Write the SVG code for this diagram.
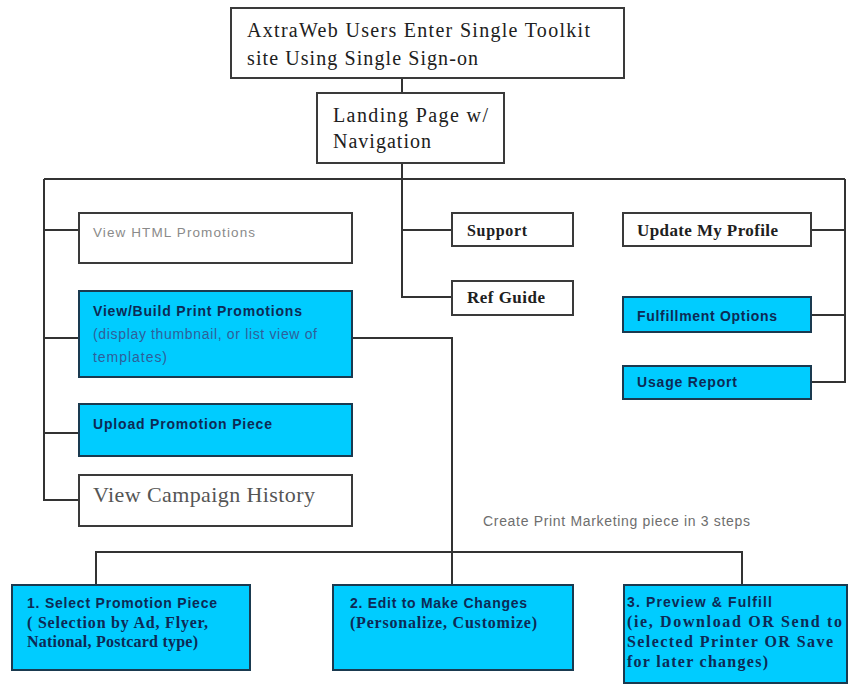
<svg xmlns="http://www.w3.org/2000/svg" width="849" height="685" viewBox="0 0 849 685">
<style>
.w{fill:#ffffff;stroke:#3a3a3a;stroke-width:2}
.c{fill:#00ccff;stroke:#1a3a50;stroke-width:2}
.ln{fill:none;stroke:#333333;stroke-width:2}
.serif{font-family:"Liberation Serif","Times New Roman",serif}
.sans{font-family:"Liberation Sans",Arial,sans-serif}
.dk{fill:#202020}
.nav{fill:#0d2a55}
.sub{fill:#2f5f9a}
.bs{font-family:"Liberation Sans",Arial,sans-serif;font-weight:bold;font-size:14px;fill:#0d2a55}
.bf{font-family:"Liberation Serif","Times New Roman",serif;font-weight:bold;font-size:16px;fill:#0d2a55}
</style>
<rect width="849" height="685" fill="#ffffff"/>
<g id="connectors">
<path class="ln" d="M402 78V93"/>
<path class="ln" d="M402 163V297H452"/>
<path class="ln" d="M44 179H845"/>
<path class="ln" d="M402 230H452"/>
<path class="ln" d="M44 179V500H79"/>
<path class="ln" d="M44 230H79"/>
<path class="ln" d="M44 338H79"/>
<path class="ln" d="M44 433H79"/>
<path class="ln" d="M845 179V382H811"/>
<path class="ln" d="M811 230H845"/>
<path class="ln" d="M811 315H845"/>
<path class="ln" d="M352 338H452V552"/>
<path class="ln" d="M96 585V552H742V585"/>
<path class="ln" d="M452 552V585"/>
</g>
<g id="n-entry">
<rect class="w" x="231" y="8" width="393" height="70"/>
<text class="serif dk" x="247" y="37" font-size="20" textLength="343" lengthAdjust="spacing">AxtraWeb Users Enter Single Toolkit</text>
<text class="serif dk" x="247" y="65" font-size="20" textLength="231" lengthAdjust="spacing">site Using Single Sign-on</text>
</g>
<g id="n-landing">
<rect class="w" x="317" y="93" width="187" height="70"/>
<text class="serif dk" x="333" y="122" font-size="20" textLength="155" lengthAdjust="spacing">Landing Page w/</text>
<text class="serif dk" x="333" y="148" font-size="20" textLength="98" lengthAdjust="spacing">Navigation</text>
</g>
<g id="n-html">
<rect class="w" x="79" y="213" width="273" height="50"/>
<text class="sans" fill="#8a8a8a" x="93" y="237" font-size="13.5" textLength="162" lengthAdjust="spacing">View HTML Promotions</text>
</g>
<g id="n-print">
<rect class="c" x="79" y="291" width="273" height="86"/>
<text class="bs" x="93" y="316" textLength="209" lengthAdjust="spacing">View/Build Print Promotions</text>
<text class="sans sub" x="93" y="339" font-size="14" textLength="224" lengthAdjust="spacing">(display thumbnail, or list view of</text>
<text class="sans sub" x="93" y="362" font-size="14" textLength="74" lengthAdjust="spacing">templates)</text>
</g>
<g id="n-upload">
<rect class="c" x="79" y="404" width="273" height="52"/>
<text class="bs" x="93" y="429" textLength="179" lengthAdjust="spacing">Upload Promotion Piece</text>
</g>
<g id="n-history">
<rect class="w" x="79" y="475" width="273" height="51"/>
<text class="serif" fill="#555555" x="93" y="502" font-size="22" textLength="222" lengthAdjust="spacing">View Campaign History</text>
</g>
<g id="n-support">
<rect class="w" x="452" y="213" width="121" height="33"/>
<text class="serif dk" x="467" y="236" font-size="16" font-weight="bold" textLength="60" lengthAdjust="spacing">Support</text>
</g>
<g id="n-refguide">
<rect class="w" x="452" y="281" width="121" height="34"/>
<text class="serif dk" x="467" y="303" font-size="17" font-weight="bold" textLength="78" lengthAdjust="spacing">Ref Guide</text>
</g>
<g id="n-profile">
<rect class="w" x="623" y="213" width="188" height="33"/>
<text class="serif dk" x="637" y="236" font-size="17" font-weight="bold" textLength="141" lengthAdjust="spacing">Update My Profile</text>
</g>
<g id="n-fulfillment">
<rect class="c" x="623" y="297" width="188" height="35"/>
<text class="bs" x="637" y="321" textLength="140" lengthAdjust="spacing">Fulfillment Options</text>
</g>
<g id="n-usage">
<rect class="c" x="623" y="366" width="188" height="33"/>
<text class="bs" x="637" y="387" textLength="100" lengthAdjust="spacing">Usage Report</text>
</g>
<g id="n-caption">
<text class="sans" fill="#6e6e6e" x="483" y="526" font-size="14" textLength="267" lengthAdjust="spacing">Create Print Marketing piece in 3 steps</text>
</g>
<g id="n-step1">
<rect class="c" x="12" y="585" width="238" height="85"/>
<text class="bs" x="27" y="608" textLength="190" lengthAdjust="spacing">1. Select Promotion Piece</text>
<text class="bf" x="27" y="628" textLength="181" lengthAdjust="spacing">( Selection by Ad, Flyer,</text>
<text class="bf" x="27" y="647" textLength="171" lengthAdjust="spacing">National, Postcard type)</text>
</g>
<g id="n-step2">
<rect class="c" x="333" y="585" width="240" height="85"/>
<text class="bs" x="350" y="608" textLength="177" lengthAdjust="spacing">2. Edit to Make Changes</text>
<text class="bf" x="350" y="628" textLength="187" lengthAdjust="spacing">(Personalize, Customize)</text>
</g>
<g id="n-step3">
<rect class="c" x="624" y="585" width="223" height="98"/>
<text class="bs" x="627" y="607" textLength="145" lengthAdjust="spacing">3. Preview &amp; Fulfill</text>
<text class="bf" x="627" y="627" textLength="215" lengthAdjust="spacing">(ie, Download OR  Send to</text>
<text class="bf" x="627" y="647" textLength="206" lengthAdjust="spacing">Selected Printer OR Save</text>
<text class="bf" x="627" y="667" textLength="141" lengthAdjust="spacing">for later changes)</text>
</g>
</svg>
